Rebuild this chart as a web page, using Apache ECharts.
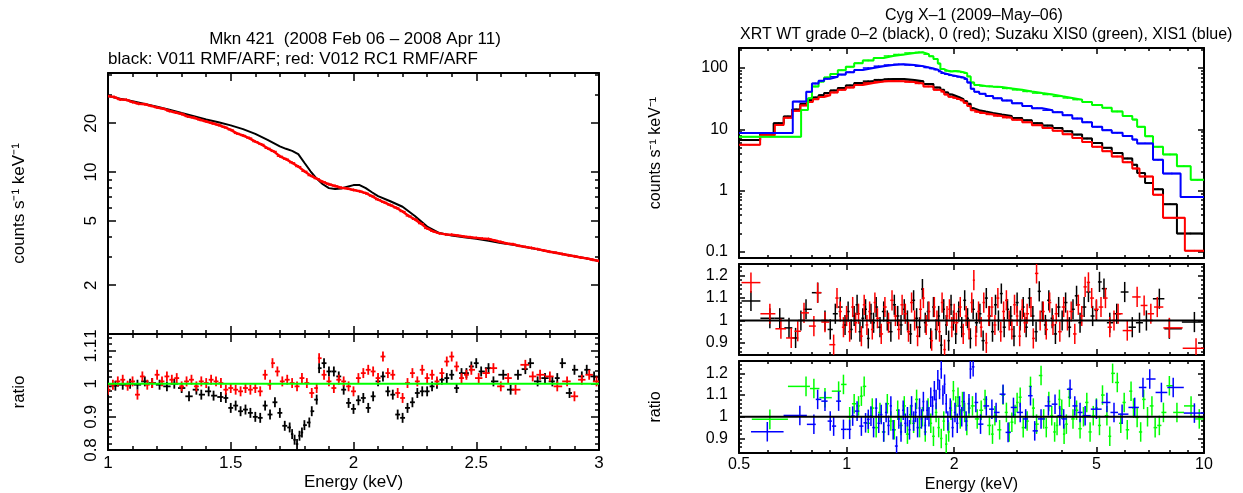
<!DOCTYPE html>
<html><head><meta charset="utf-8">
<script src="https://cdn.jsdelivr.net/npm/echarts@6/dist/echarts.min.js"></script>
<style>html,body{margin:0;padding:0;background:#fff;}#c{width:1243px;height:493px;}</style>
</head><body><div id="c"></div>
<script>
// ================= DATA =================
// --- Mkn 421 spectrum (E keV, counts s^-1 keV^-1)
const mknV011 = [[1.00,29.4],[1.05,28.3],[1.10,27.3],[1.15,26.3],[1.20,25.3],[1.25,24.2],[1.30,23.1],[1.35,22.1],[1.40,21.1],[1.45,20.3],[1.50,19.4],[1.55,18.4],[1.60,17.2],[1.65,15.8],[1.70,14.4],[1.725,13.9],[1.75,13.5],[1.775,12.9],[1.80,11.4],[1.825,10.1],[1.85,9.1],[1.875,8.4],[1.90,7.95],[1.925,7.85],[1.95,7.9],[1.975,8.1],[2.00,8.3],[2.025,8.3],[2.05,7.95],[2.075,7.5],[2.10,7.1],[2.15,6.6],[2.20,6.1],[2.25,5.35],[2.30,4.6],[2.35,4.2],[2.40,4.05],[2.45,3.96],[2.50,3.87],[2.55,3.76],[2.60,3.65],[2.65,3.55],[2.70,3.44],[2.75,3.33],[2.80,3.22],[2.85,3.12],[2.90,3.02],[2.95,2.92],[3.00,2.82]];
const mknV012 = [[1.00,29.4],[1.025,29.0],[1.05,28.0],[1.075,27.9],[1.10,27.0],[1.125,26.4],[1.15,26.2],[1.175,25.6],[1.20,25.0],[1.225,24.6],[1.25,23.8],[1.275,23.3],[1.30,22.8],[1.325,22.0],[1.35,21.6],[1.375,21.0],[1.40,20.5],[1.425,20.0],[1.45,19.5],[1.475,18.9],[1.50,18.2],[1.525,17.3],[1.55,16.8],[1.575,16.2],[1.60,15.4],[1.625,14.8],[1.65,14.0],[1.675,13.4],[1.70,12.5],[1.725,12.0],[1.75,11.4],[1.775,10.8],[1.80,10.1],[1.825,9.5],[1.85,9.1],[1.875,8.7],[1.90,8.4],[1.925,8.2],[1.95,8.0],[1.975,7.9],[2.00,7.75],[2.025,7.6],[2.05,7.4],[2.075,7.1],[2.10,6.75],[2.125,6.5],[2.15,6.25],[2.175,6.0],[2.20,5.7],[2.225,5.35],[2.25,5.1],[2.275,4.8],[2.30,4.48],[2.325,4.3],[2.35,4.18],[2.375,4.12],[2.40,4.1],[2.425,4.05],[2.45,4.0],[2.475,3.96],[2.50,3.92],[2.525,3.88],[2.55,3.86],[2.575,3.78],[2.60,3.70],[2.625,3.62],[2.65,3.58],[2.675,3.50],[2.70,3.45],[2.725,3.40],[2.75,3.34],[2.775,3.28],[2.80,3.22],[2.825,3.17],[2.85,3.12],[2.875,3.06],[2.90,3.02],[2.925,2.97],[2.95,2.93],[2.975,2.87],[3.00,2.82]];
// --- Mkn 421 ratios
const mknRatioV011 = [[1.00,0.992],[1.03,0.994],[1.06,0.997],[1.09,1.0],[1.12,0.997],[1.15,1.007],[1.18,1.002],[1.21,0.997],[1.24,0.992],[1.27,1.0],[1.30,0.987],[1.33,0.962],[1.36,0.982],[1.38,0.967],[1.41,0.977],[1.43,0.964],[1.46,0.96],[1.48,0.957],[1.50,0.927],[1.52,0.934],[1.54,0.917],[1.56,0.922],[1.58,0.912],[1.60,0.90],[1.62,0.897],[1.64,0.934],[1.66,0.907],[1.68,0.944],[1.70,0.912],[1.72,0.873],[1.74,0.868],[1.75,0.848],[1.76,0.831],[1.77,0.818],[1.78,0.843],[1.79,0.853],[1.80,0.875],[1.82,0.883],[1.83,0.917],[1.85,0.952],[1.86,1.047],[1.88,1.062],[1.90,1.037],[1.92,1.037],[1.94,1.022],[1.96,0.982],[1.98,0.942],[2.00,0.924],[2.02,0.95],[2.04,0.957],[2.06,0.927],[2.08,0.962],[2.10,1.007],[2.12,1.022],[2.14,0.977],[2.16,0.967],[2.18,0.907],[2.20,0.897],[2.22,0.927],[2.24,0.944],[2.26,0.972],[2.28,0.977],[2.30,0.977],[2.32,0.992],[2.34,1.0],[2.36,1.012],[2.38,1.017],[2.40,1.027],[2.42,0.987],[2.44,1.032],[2.46,1.032],[2.48,1.052],[2.50,1.062],[2.52,1.037],[2.55,1.047],[2.57,1.007],[2.61,1.027],[2.64,0.982],[2.67,1.027],[2.70,1.044],[2.72,1.062],[2.75,1.007],[2.78,1.017],[2.81,1.007],[2.83,1.017],[2.85,1.062],[2.88,0.972],[2.90,1.042],[2.93,1.022],[2.95,1.042],[2.98,1.022]];
const mknRatioV012 = [[1.00,0.982],[1.02,0.997],[1.04,1.007],[1.06,1.012],[1.08,0.994],[1.10,1.007],[1.12,0.967],[1.14,1.022],[1.16,0.997],[1.18,1.002],[1.20,1.027],[1.22,1.007],[1.24,1.022],[1.26,1.012],[1.28,1.017],[1.30,0.992],[1.32,1.007],[1.34,1.012],[1.36,0.992],[1.38,1.007],[1.40,1.002],[1.42,1.012],[1.44,1.007],[1.46,1.002],[1.48,0.982],[1.50,0.987],[1.52,0.982],[1.54,0.977],[1.56,0.987],[1.58,0.982],[1.60,0.987],[1.62,0.977],[1.64,1.027],[1.66,0.997],[1.67,1.062],[1.69,1.037],[1.71,1.007],[1.73,1.012],[1.75,1.002],[1.77,0.992],[1.79,1.017],[1.81,1.002],[1.83,0.972],[1.85,0.987],[1.86,1.077],[1.88,1.027],[1.90,1.007],[1.92,0.987],[1.94,1.012],[1.96,1.007],[1.98,0.992],[2.00,0.977],[2.02,1.017],[2.04,1.032],[2.06,1.042],[2.08,1.037],[2.10,1.017],[2.12,1.082],[2.14,1.032],[2.16,1.027],[2.18,0.972],[2.20,0.957],[2.22,1.002],[2.24,1.032],[2.26,1.007],[2.28,1.042],[2.30,1.017],[2.32,1.027],[2.34,1.007],[2.36,1.032],[2.38,1.067],[2.40,1.082],[2.42,1.052],[2.44,1.017],[2.46,1.027],[2.48,1.042],[2.51,1.017],[2.54,1.032],[2.57,1.047],[2.60,0.992],[2.63,1.017],[2.66,0.982],[2.70,1.057],[2.73,1.022],[2.76,1.027],[2.80,1.022],[2.83,0.992],[2.87,1.007],[2.90,0.962],[2.93,1.012],[2.96,1.027],[2.99,1.007]];

// --- Cyg X-1 spectra: bin edges (keV) and counts s^-1 keV^-1
const xrt02Edges = [0.5,0.573,0.625,0.667,0.704,0.742,0.775,0.805,0.835,0.865,0.90,0.945,0.995,1.05,1.11,1.19,1.27,1.35,1.45,1.55,1.64,1.75,1.83,1.875,1.925,1.975,2.025,2.075,2.125,2.175,2.225,2.275,2.35,2.45,2.57,2.72,2.9,3.1,3.3,3.53,3.77,4.02,4.28,4.56,4.86,5.19,5.52,5.92,6.3,6.5,6.84,7.2,7.68,8.4,10.0];
const xrt02Counts = [6.7,8.5,12.6,16.2,21, 26,30,33,36,39, 43,47,52,57,61, 64.5,66,66,64,61, 55,48,44,40,37, 35,33,31,28.6,26, 22,20.5,19.5,18.5,17.4, 16.5,15.3,14,12.6,11.5, 10.5,9.3,8.2,7.1,6.0, 5.0,4.1,3.35,2.65,1.94, 1.33,1.05,0.6,0.2];
const xrt0Edges = [0.5,0.573,0.63,0.667,0.704,0.742,0.775,0.805,0.835,0.865,0.90,0.945,0.995,1.05,1.11,1.19,1.27,1.35,1.45,1.55,1.64,1.75,1.83,1.875,1.925,1.975,2.025,2.075,2.125,2.175,2.225,2.275,2.35,2.45,2.57,2.72,2.9,3.1,3.3,3.53,3.77,4.02,4.28,4.56,4.86,5.19,5.52,5.92,6.3,6.6,7.2,7.68,8.84,10.0];
const xrt0Counts = [5.6,8.0,11.8,15.5,20, 24.5,28,31,33.5,36, 40,44,48,53,57, 60,61.5,61,59,56, 50,44,41,37,34, 32.5,31,29.5,27,24, 20.5,19.2,18.3,17.5,16.5, 15.5,14.3,13.0,11.7,10.5, 9.5,8.3,7.2,6.2,5.2, 4.4,3.6,2.9,2.3,1.7, 0.86,0.36,0.105];
const xis0Edges = [0.5,0.746,0.78,0.80,0.835,0.865,0.90,0.945,0.995,1.05,1.11,1.19,1.27,1.35,1.45,1.55,1.64,1.70,1.75,1.80,1.83,1.875,1.925,1.975,2.025,2.075,2.125,2.175,2.225,2.275,2.35,2.45,2.57,2.72,2.9,3.1,3.3,3.53,3.77,4.02,4.28,4.56,4.86,5.19,5.52,5.92,6.3,6.5,6.84,7.2,7.68,8.4,9.18,10.0];
const xis0Counts = [7.6,20.7,32,50,60, 70,80,92,105,120, 133,146,157,166,176, 180,168,155,140,118, 96,90,88,89,88, 85,82,73,58,53, 51,50,49,46.5,44, 41.5,39,37,34.5,32.5, 30.5,28,25,22.5,19.6, 16.5,14.4,11,7.7,5.2, 3.9,2.5,1.5];
const xis1Edges = [0.5,0.707,0.771,0.80,0.835,0.865,0.90,0.945,0.995,1.05,1.11,1.19,1.27,1.35,1.45,1.55,1.64,1.70,1.75,1.80,1.83,1.875,1.925,1.975,2.025,2.075,2.125,2.175,2.225,2.275,2.35,2.45,2.57,2.72,2.9,3.1,3.3,3.53,3.77,4.02,4.28,4.56,4.86,5.19,5.52,5.92,6.3,6.5,7.2,7.68,8.6,10.0];
const xis1Counts = [8.7,28.3,41,56,62, 67,72,78,85,93, 100,107,112,115,112, 107,102,98,94,88, 82,79,76,74,72, 70,66,58,46,41, 38,35,32,29.5,26.5, 24,22,20.5,19,17, 15,13,11,9.7,8.8, 7.8,6.8,5.9,3.2,1.9, 0.79];

// --- Cyg X-1 ratios (E keV, data/model)
const xrt02Ratio = [[0.54,1.087],[0.61,1.01],[0.65,1.01],[0.69,0.967],[0.72,0.922],[0.745,1.0],[0.77,1.05],[0.83,1.124],[0.87,1.0],[0.90,0.96],[0.93,1.03],[0.96,1.06],[0.99,0.98],[1.01,1.04],[1.03,0.96],[1.05,1.02],[1.07,1.07],[1.09,0.95],[1.11,1.01],[1.13,1.05],[1.15,0.92],[1.17,1.03],[1.19,0.99],[1.21,1.06],[1.24,0.97],[1.27,1.04],[1.30,1.00],[1.33,0.95],[1.36,1.07],[1.39,1.02],[1.42,0.98],[1.45,1.05],[1.48,1.00],[1.51,0.94],[1.54,1.09],[1.57,1.01],[1.60,0.97],[1.63,1.14],[1.66,0.99],[1.69,1.04],[1.72,0.92],[1.75,1.06],[1.78,0.96],[1.81,1.02],[1.84,0.89],[1.87,1.05],[1.90,0.98],[1.93,0.91],[1.96,1.07],[1.99,1.00],[2.02,0.94],[2.06,1.04],[2.10,0.97],[2.14,1.09],[2.18,1.01],[2.22,0.92],[2.26,1.05],[2.31,0.99],[2.36,1.03],[2.41,0.91],[2.46,1.10],[2.51,1.02],[2.56,0.95],[2.61,1.07],[2.66,1.00],[2.71,1.12],[2.76,0.97],[2.82,1.05],[2.88,1.02],[2.94,0.93],[3.00,1.08],[3.06,1.00],[3.12,1.06],[3.18,0.97],[3.25,1.10],[3.32,1.02],[3.39,0.95],[3.46,1.13],[3.53,1.04],[3.60,0.98],[3.68,1.09],[3.76,1.01],[3.84,0.94],[3.92,1.06],[4.01,1.00],[4.10,1.08],[4.20,0.97],[4.30,1.05],[4.40,1.11],[4.50,0.99],[4.62,1.06],[4.75,1.127],[4.88,1.02],[5.0,1.045],[5.1,1.172],[5.25,1.142],[5.45,0.99],[5.7,1.03],[6.0,1.127],[6.3,0.97],[6.6,0.99],[6.9,1.0],[7.5,1.097],[8.0,0.963],[9.4,0.993]];
const xrt0Ratio = [[0.54,1.169],[0.61,1.03],[0.655,0.963],[0.70,0.922],[0.73,0.952],[0.76,1.034],[0.81,0.975],[0.83,1.124],[0.87,0.993],[0.92,0.892],[0.94,1.10],[0.96,1.04],[0.98,0.97],[1.00,1.02],[1.02,0.95],[1.04,1.06],[1.06,0.99],[1.08,1.03],[1.10,0.93],[1.12,1.07],[1.14,0.98],[1.16,1.04],[1.18,0.96],[1.20,1.08],[1.22,1.01],[1.25,0.94],[1.28,1.06],[1.31,0.99],[1.34,1.09],[1.37,1.02],[1.40,0.96],[1.43,1.07],[1.46,1.03],[1.49,0.95],[1.52,1.08],[1.55,1.0],[1.58,0.93],[1.61,1.05],[1.64,1.10],[1.67,0.98],[1.70,1.04],[1.73,0.91],[1.76,1.06],[1.79,1.0],[1.82,0.95],[1.85,1.08],[1.88,0.87],[1.91,1.02],[1.94,1.05],[1.97,0.97],[2.00,1.03],[2.03,0.99],[2.08,1.06],[2.12,0.94],[2.16,1.02],[2.20,0.96],[2.24,1.08],[2.27,1.18],[2.30,0.93],[2.34,1.04],[2.38,0.97],[2.42,1.08],[2.46,0.90],[2.50,1.02],[2.55,1.06],[2.60,0.98],[2.65,1.10],[2.70,0.95],[2.75,1.04],[2.80,1.09],[2.85,1.00],[2.90,0.96],[2.95,1.07],[3.00,1.02],[3.05,0.93],[3.10,1.05],[3.15,0.99],[3.20,1.03],[3.28,1.06],[3.33,0.92],[3.40,1.21],[3.48,1.00],[3.55,1.04],[3.62,0.96],[3.70,1.08],[3.78,0.98],[3.86,1.03],[3.95,0.95],[4.05,1.06],[4.15,1.00],[4.25,1.04],[4.35,0.94],[4.45,1.07],[4.55,1.02],[4.65,1.15],[4.75,1.17],[4.85,1.10],[5.0,1.05],[5.15,1.06],[5.3,1.10],[5.45,0.97],[5.6,1.00],[5.75,1.03],[6.1,0.955],[6.5,1.105],[6.8,1.067],[7.1,1.03],[7.4,1.06],[8.0,0.967],[9.5,0.876]];
const xis0Ratio = [[0.61,0.988],[0.77,1.14],[0.81,1.13],[0.87,1.088],[0.95,1.118],[0.98,1.149],[1.02,1.0],[1.05,1.06],[1.08,1.05],[1.10,1.095],[1.12,1.14],[1.15,0.97],[1.18,1.04],[1.21,0.95],[1.24,1.02],[1.27,0.93],[1.30,1.06],[1.33,0.98],[1.36,0.94],[1.39,1.03],[1.42,0.96],[1.45,1.05],[1.48,0.92],[1.51,1.01],[1.54,0.97],[1.57,1.08],[1.60,0.95],[1.63,1.00],[1.66,0.93],[1.69,1.04],[1.72,0.97],[1.75,0.91],[1.78,1.02],[1.81,0.95],[1.84,0.90],[1.87,0.98],[1.90,0.874],[1.93,0.93],[1.96,1.03],[1.99,1.12],[2.02,1.05],[2.05,1.09],[2.08,0.99],[2.11,1.07],[2.14,1.02],[2.17,0.96],[2.20,1.04],[2.25,1.05],[2.32,0.99],[2.38,1.03],[2.44,1.08],[2.51,0.96],[2.56,0.92],[2.60,1.005],[2.68,0.94],[2.74,1.10],[2.80,1.02],[2.85,0.93],[2.90,0.975],[2.96,1.01],[3.0,1.066],[3.06,1.09],[3.12,0.95],[3.20,0.98],[3.27,1.14],[3.33,1.04],[3.40,0.966],[3.50,1.19],[3.56,0.99],[3.62,0.95],[3.68,1.07],[3.75,1.005],[3.82,0.93],[3.88,0.96],[3.94,1.08],[4.0,1.035],[4.06,0.92],[4.12,0.966],[4.20,1.09],[4.30,0.99],[4.40,1.03],[4.50,0.945],[4.60,1.0],[4.70,1.066],[4.80,0.93],[4.90,1.005],[5.0,1.04],[5.1,0.96],[5.2,1.10],[5.35,1.005],[5.45,0.91],[5.55,1.2],[5.72,1.158],[5.85,0.97],[5.98,1.066],[6.1,0.94],[6.25,1.118],[6.35,1.04],[6.5,0.997],[6.65,0.93],[6.78,1.08],[6.95,1.0],[7.15,1.05],[7.3,0.95],[7.5,0.96],[7.7,1.02],[8.0,1.143],[8.4,1.02],[9.2,1.05],[9.7,0.99]];
const xis1Ratio = [[0.6,0.931],[0.74,1.006],[0.81,0.965],[0.83,1.08],[0.87,1.072],[0.90,0.98],[0.92,0.957],[0.95,1.072],[0.98,0.942],[1.02,0.942],[1.04,1.003],[1.07,1.026],[1.10,0.957],[1.13,0.972],[1.15,0.988],[1.17,1.003],[1.19,0.95],[1.21,1.04],[1.23,0.97],[1.25,1.01],[1.27,0.93],[1.29,1.02],[1.31,0.96],[1.33,1.05],[1.35,0.94],[1.38,0.865],[1.40,0.99],[1.42,0.93],[1.44,1.03],[1.46,0.97],[1.48,1.0],[1.50,0.94],[1.52,1.05],[1.54,0.98],[1.56,1.02],[1.58,0.95],[1.60,1.04],[1.62,0.99],[1.64,1.07],[1.66,0.96],[1.68,1.03],[1.70,1.0],[1.72,1.09],[1.74,1.05],[1.76,1.12],[1.78,1.08],[1.80,1.17],[1.82,1.126],[1.84,1.22],[1.86,1.10],[1.88,1.15],[1.90,1.06],[1.92,0.98],[1.95,1.04],[1.98,0.95],[2.01,1.02],[2.04,0.97],[2.07,1.05],[2.10,1.00],[2.13,1.07],[2.16,0.98],[2.20,1.06],[2.22,1.22],[2.26,1.23],[2.30,1.066],[2.37,0.966],[2.46,1.05],[2.55,1.035],[2.62,1.02],[2.74,1.104],[2.83,0.928],[2.93,1.043],[3.06,1.02],[3.17,0.99],[3.27,1.097],[3.36,0.935],[3.5,0.99],[3.67,1.05],[3.83,1.058],[3.95,1.005],[4.05,0.99],[4.22,1.127],[4.35,1.05],[4.5,1.02],[4.65,1.005],[5.0,1.035],[5.35,1.066],[5.6,1.02],[5.9,1.012],[6.4,1.043],[6.75,1.135],[7.05,1.174],[7.6,1.112],[8.2,1.135],[9.4,1.017]];

// --- tick values
const mknEnergyMajor = [1,1.5,2,2.5,3];
const mknEnergyMinor = [1.1,1.2,1.3,1.4,1.6,1.7,1.8,1.9,2.1,2.2,2.3,2.4,2.6,2.7,2.8,2.9];
const mknCountMajor = [1,2,5,10,20];
const mknCountMinor = [3,4,6,7,8,9,30,40];
const mknRatioMajor = [0.8,0.9,1,1.1];
const mknRatioMinor = [0.82,0.84,0.86,0.88,0.92,0.94,0.96,0.98,1.02,1.04,1.06,1.08,1.12,1.14];
const cygEnergyMajor = [0.5,1,2,5,10];
const cygEnergyMinor = [0.6,0.7,0.8,0.9,3,4,6,7,8,9];
const cygCountMajor = [0.1,1,10,100];
const cygCountMinor = [0.2,0.3,0.4,0.5,0.6,0.7,0.8,0.9,2,3,4,5,6,7,8,9,20,30,40,50,60,70,80,90,200];
const cygRatioMajor = [0.9,1,1.1,1.2];
const cygRatioMinor = [0.86,0.88,0.92,0.94,0.96,0.98,1.02,1.04,1.06,1.08,1.12,1.14,1.16,1.18,1.22,1.24];

// ================= BUILD =================
const FONT = "'Liberation Sans', Arial, Helvetica, sans-serif";
const L = v => Math.log10(v);
const fmtLog = v => String(parseFloat(Math.pow(10, v).toPrecision(3)));
const fmtLin = v => String(parseFloat(Number(v).toPrecision(3)));

const grids = [
  {left:108, top:73,  width:491, height:261},
  {left:108, top:334, width:491, height:116},
  {left:739, top:48,  width:465, height:210},
  {left:739, top:264, width:465, height:91},
  {left:739, top:361, width:465, height:92}
];
grids.forEach(g => { g.containLabel = false; g.outerBoundsMode = 'none'; g.show = false; });

const xAxes = [], yAxes = [];
function addAxes(g, s) {
  const base = {type:'value', gridIndex:g, splitLine:{show:false}, splitArea:{show:false}, silent:true, axisPointer:{show:false}};
  const frame = {show:true, onZero:false, lineStyle:{color:'#000', width:2}};
  const noLine = {show:false, onZero:false};
  const ts = {color:'#000', width:1.5};
  const txt = {fontSize:s.fs, color:'#000', fontFamily:FONT};
  const xi = xAxes.length, yi = yAxes.length;
  ['bottom','top'].forEach(pos => {
    const main = pos === 'bottom';
    xAxes.push(Object.assign({}, base, {position:pos, min:s.xMin, max:s.xMax, axisLine:frame,
      axisTick:{show:true, inside:true, length:s.maj, customValues:s.xMajor, lineStyle:ts},
      axisLabel: (main && s.xLabels) ? Object.assign({show:true, customValues:s.xMajor, formatter:s.xFmt, margin:s.xMargin}, txt) : {show:false},
      name: (main && s.xName) ? s.xName : '', nameLocation:'middle', nameGap:s.xNameGap || 0, nameTextStyle:txt}));
    xAxes.push(Object.assign({}, base, {position:pos, min:s.xMin, max:s.xMax, axisLine:noLine,
      axisTick:{show:true, inside:true, length:s.min, customValues:s.xMinor, lineStyle:ts}, axisLabel:{show:false}}));
  });
  ['left','right'].forEach(pos => {
    const main = pos === 'left';
    yAxes.push(Object.assign({}, base, {position:pos, min:s.yMin, max:s.yMax, axisLine:frame,
      axisTick:{show:true, inside:true, length:s.maj, customValues:s.yMajor, lineStyle:ts},
      axisLabel: main ? Object.assign({show:true, customValues:s.yMajor, formatter:s.yFmt, margin:s.yMargin, rotate:s.yRotate || 0}, txt) : {show:false},
      name: (main && s.yName) ? s.yName : '', nameLocation:'middle', nameGap:s.yNameGap || 0, nameTextStyle:txt}));
    yAxes.push(Object.assign({}, base, {position:pos, min:s.yMin, max:s.yMax, axisLine:noLine,
      axisTick:{show:true, inside:true, length:s.min, customValues:s.yMinor, lineStyle:ts}, axisLabel:{show:false}}));
  });
  return {x:xi, y:yi};
}

const A0 = addAxes(0, {fs:17, maj:8, min:4, xMin:1, xMax:3, xMajor:mknEnergyMajor, xMinor:mknEnergyMinor, xLabels:false,
  yMin:0, yMax:1.611, yMajor:mknCountMajor.map(L), yMinor:mknCountMinor.map(L), yFmt:fmtLog, yMargin:8, yRotate:90,
  yName:'counts s\u207B\u00B9 keV\u207B\u00B9', yNameGap:80});
const A1 = addAxes(1, {fs:17, maj:8, min:4, xMin:1, xMax:3, xMajor:mknEnergyMajor, xMinor:mknEnergyMinor, xLabels:true, xFmt:fmtLin, xMargin:5,
  xName:'Energy (keV)', xNameGap:24,
  yMin:0.8, yMax:1.15, yMajor:mknRatioMajor, yMinor:mknRatioMinor, yFmt:fmtLin, yMargin:8, yRotate:90, yName:'ratio', yNameGap:80});
const cygX = {xMin:L(0.5), xMax:L(10), xMajor:cygEnergyMajor.map(L), xMinor:cygEnergyMinor.map(L)};
const A2 = addAxes(2, Object.assign({fs:16, maj:6, min:3, xLabels:false,
  yMin:-1.098, yMax:2.326, yMajor:cygCountMajor.map(L), yMinor:cygCountMinor.map(L), yFmt:fmtLog, yMargin:11,
  yName:'counts s\u207B\u00B9 keV\u207B\u00B9', yNameGap:75}, cygX));
const A3 = addAxes(3, Object.assign({fs:16, maj:6, min:3, xLabels:false,
  yMin:0.846, yMax:1.252, yMajor:cygRatioMajor, yMinor:cygRatioMinor, yFmt:fmtLin, yMargin:11}, cygX));
const A4 = addAxes(4, Object.assign({fs:16, maj:6, min:3, xLabels:true, xFmt:fmtLog, xMargin:4, xName:'Energy (keV)', xNameGap:24,
  yMin:0.833, yMax:1.257, yMajor:cygRatioMajor, yMinor:cygRatioMinor, yFmt:fmtLin, yMargin:11, yName:'ratio', yNameGap:75}, cygX));

// ---- mark builders (positions come from the axes via api.coord)
function crossRender(color, lw) {
  return function (params, api) {
    const a = api.coord([api.value(2), api.value(1)]);
    const b = api.coord([api.value(3), api.value(1)]);
    const c = api.coord([api.value(0), api.value(4)]);
    const d = api.coord([api.value(0), api.value(5)]);
    const st = {stroke:color, lineWidth:lw};
    return {type:'group', children:[
      {type:'line', shape:{x1:a[0], y1:a[1], x2:b[0], y2:b[1]}, style:st},
      {type:'line', shape:{x1:c[0], y1:c[1], x2:d[0], y2:d[1]}, style:st}]};
  };
}
function crossSeries(items, color, ax, lw, z) {
  return {type:'custom', xAxisIndex:ax.x, yAxisIndex:ax.y, clip:true, silent:true, z:z,
    data:items, encode:{x:0, y:1}, renderItem:crossRender(color, lw), animation:false};
}
// points -> crosses; x error half way to neighbours (in axis space tx), y +- err (in axis space ty)
function pointCrosses(pairs, tx, ty, yerr) {
  const p = pairs.slice().sort((a, b) => a[0] - b[0]);
  const xs = p.map(q => tx(q[0]));
  return p.map((q, i) => {
    const lo = i > 0 ? (xs[i-1] + xs[i]) / 2 : xs[i] - ((xs[i+1] - xs[i]) / 2);
    const hi = i < xs.length - 1 ? (xs[i] + xs[i+1]) / 2 : xs[i] + ((xs[i] - xs[i-1]) / 2);
    const y = ty(q[1]);
    return [xs[i], y, lo, hi, y - yerr, y + yerr];
  });
}
function histCrosses(edges, counts, yerr) {
  return counts.map((c, i) => {
    const lo = L(edges[i]), hi = L(edges[i+1]), y = L(c);
    return [(lo + hi) / 2, y, lo, hi, y - yerr, y + yerr];
  });
}
function histLine(edges, counts, color, ax, z) {
  const pts = counts.map((c, i) => [L(edges[i]), L(c)]);
  pts.push([L(edges[edges.length - 1]), L(counts[counts.length - 1])]);
  return {type:'line', step:'end', data:pts, symbol:'none', showSymbol:false, xAxisIndex:ax.x, yAxisIndex:ax.y,
    lineStyle:{color:color, width:2}, z:z, silent:true, animation:false};
}
function unityLine(ax, xMin, xMax, color, z) {
  return {type:'line', data:[[xMin, 1], [xMax, 1]], symbol:'none', showSymbol:false, xAxisIndex:ax.x, yAxisIndex:ax.y,
    lineStyle:{color:color, width:2}, z:z, silent:true, animation:false};
}
const id = v => v;
const BLACK = '#000000', RED = '#ff0000', GREEN = '#00ff00', BLUE = '#0000ff';

const series = [
  // Mkn 421 spectrum
  {type:'line', data:mknV011.map(p => [p[0], L(p[1])]), symbol:'none', showSymbol:false, xAxisIndex:A0.x, yAxisIndex:A0.y,
    lineStyle:{color:BLACK, width:2}, z:2, silent:true, animation:false},
  {type:'line', data:mknV012.map(p => [p[0], L(p[1])]), symbol:'none', showSymbol:false, xAxisIndex:A0.x, yAxisIndex:A0.y,
    lineStyle:{color:RED, width:2.5}, z:3, silent:true, animation:false},
  crossSeries(pointCrosses(mknV012, id, L, 0.009), RED, A0, 1.3, 4),
  // Mkn 421 ratio
  crossSeries(pointCrosses(mknRatioV011, id, id, 0.015), BLACK, A1, 1.8, 2),
  crossSeries(pointCrosses(mknRatioV012, id, id, 0.015), RED, A1, 1.8, 3),
  unityLine(A1, 1, 3, GREEN, 5),
  // Cyg X-1 spectra
  histLine(xrt02Edges, xrt02Counts, BLACK, A2, 2),
  crossSeries(histCrosses(xrt02Edges, xrt02Counts, 0.012), BLACK, A2, 1.5, 2),
  histLine(xrt0Edges, xrt0Counts, RED, A2, 3),
  crossSeries(histCrosses(xrt0Edges, xrt0Counts, 0.012), RED, A2, 1.5, 3),
  histLine(xis0Edges, xis0Counts, GREEN, A2, 4),
  crossSeries(histCrosses(xis0Edges, xis0Counts, 0.012), GREEN, A2, 1.5, 4),
  histLine(xis1Edges, xis1Counts, BLUE, A2, 5),
  crossSeries(histCrosses(xis1Edges, xis1Counts, 0.012), BLUE, A2, 1.5, 5),
  // Cyg X-1 ratios
  crossSeries(pointCrosses(xrt02Ratio, L, id, 0.045), BLACK, A3, 1.5, 2),
  crossSeries(pointCrosses(xrt0Ratio, L, id, 0.045), RED, A3, 1.5, 3),
  unityLine(A3, L(0.5), L(10), BLACK, 5),
  crossSeries(pointCrosses(xis0Ratio, L, id, 0.045), GREEN, A4, 1.5, 2),
  crossSeries(pointCrosses(xis1Ratio, L, id, 0.045), BLUE, A4, 1.5, 3),
  unityLine(A4, L(0.5), L(10), BLACK, 5)
];

const tStyle = (fs) => ({fontSize:fs, fontWeight:'normal', color:'#000', fontFamily:FONT});
const option = {
  animation:false,
  backgroundColor:'#ffffff',
  title:[
    {text:'Mkn 421  (2008 Feb 06 \u2013 2008 Apr 11)', left:355, top:31, textAlign:'center', padding:0, textStyle:tStyle(17)},
    {text:'black: V011 RMF/ARF; red: V012 RC1 RMF/ARF', left:108, top:51, padding:0, textStyle:tStyle(17)},
    {text:'Cyg X\u20131 (2009\u2013May\u201306)', left:974, top:8, textAlign:'center', padding:0, textStyle:tStyle(16)},
    {text:'XRT WT grade 0\u20132 (black), 0 (red); Suzaku XIS0 (green), XIS1 (blue)', left:740, top:27, padding:0, textStyle:tStyle(16)}
  ],
  grid:grids,
  xAxis:xAxes,
  yAxis:yAxes,
  series:series
};
const chart = echarts.init(document.getElementById('c'), null, {renderer:'canvas'});
chart.setOption(option);
</script>
</body></html>
